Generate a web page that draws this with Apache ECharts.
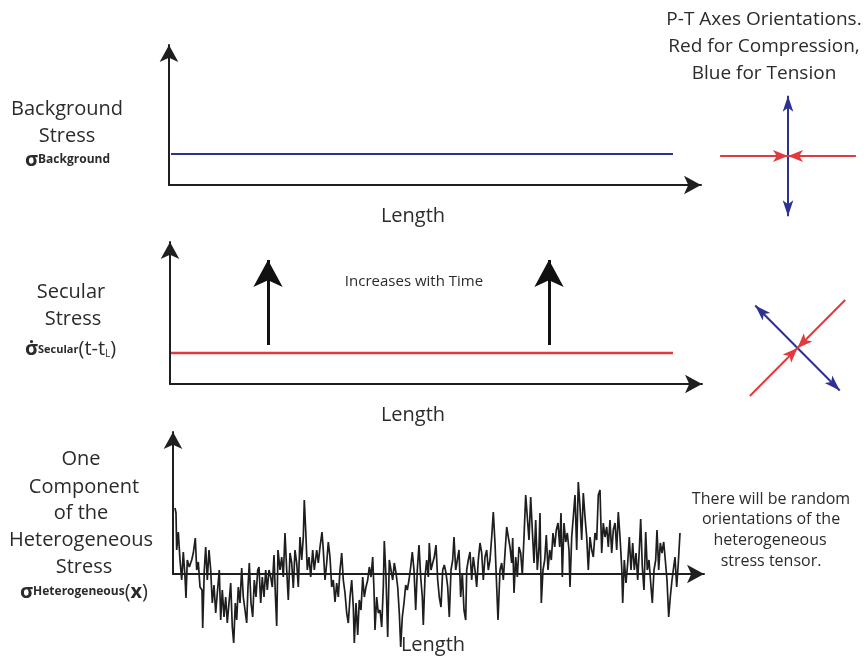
<!DOCTYPE html>
<html>
<head>
<meta charset="utf-8">
<script src="https://cdn.jsdelivr.net/npm/echarts@6/dist/echarts.min.js"></script>
<style>
html, body { margin: 0; padding: 0; background: #fff; }
#chart { width: 867px; height: 656px; }
</style>
</head>
<body>
<div id="chart"></div>
<script>
// background stress (panel 1): flat level along the length
var backgroundLength = [0, 502];
var backgroundStress = [31, 31];

// secular stress (panel 2): flat level, arrows show it grows with time
var secularLength = [0, 502];
var secularStress = [31, 31];
var increaseAt = [97, 378];
var increaseFrom = [39, 39];
var increaseTo = [124, 124];

// heterogeneous stress (panel 3): [length, stress]
var heteroStress = [
  [0,66],[1,61],[1.7,24],[3.3,42],[5,14],[6.7,-6],[8.3,22],[10,-3],[11,-24],[12.3,14],
  [14.3,7],[16.7,14],[18.3,21],[20.3,36],[21.7,4],[23.3,12],[25,-13],[27,-16],[27.7,-54],[29.3,4],
  [30.7,27],[32.3,-6],[34,24],[35.7,4],[37.3,-29],[39,-11],[40.7,-39],[42.3,-19],[44.3,4],[45.7,-46],
  [47.3,-16],[49,-43],[50.7,-23],[52.3,-49],[54,-29],[55.7,-9],[57.3,-53],[58.7,-69],[60.3,-29],[61.7,-46],
  [63.3,-13],[65,-29],[66.7,6],[68.3,-23],[70,-36],[71.7,-49],[73,-13],[74.3,11],[76,-29],[77.7,-43],
  [79.3,-6],[81,-23],[82.7,4],[84,7],[85.7,-29],[87.3,-3],[89,-23],[90.7,4],[92.3,-16],[94,4],
  [95.7,-3],[97.3,-13],[99,19],[100.3,-19],[101.7,-52],[103,24],[105,4],[106.7,17],[108.3,-3],[110,41],
  [111.7,4],[113.3,-26],[115,21],[116.7,11],[118.3,-14],[120,24],[121.7,11],[123.3,-13],[125,37],[126.7,14],
  [128.3,37],[129.3,74],[130.7,44],[132.3,4],[134,17],[135.7,-3],[137.7,24],[139.3,4],[141.7,24],[143.3,11],
  [145,27],[147,42],[148.3,24],[150,-6],[151.7,11],[153.3,32],[155,17],[156.7,-13],[158.3,-6],[160,-28],
  [161.7,-9],[163.3,-23],
  [165,4],[166.7,21],[168.3,-6],[170,-19],[171.7,-39],[173.3,-49],[175,-23],[176.7,-6],[178.3,-33],[179.3,-69],
  [181,-29],[182.7,-61],[184.3,-26],[186,-36],[187.7,-3],[189.3,-23],[191,-13],[192.7,-6],[194.3,7],[196,-3],
  [197.7,17],[199,-16],[200,-56],[201.7,-23],[203.3,-39],[205,-36],[206.7,-53],[208.3,-13],[209.3,33],[211,-3],
  [212.7,-63],[214.3,14],[216,4],[217.7,-6],[219.3,11],[221,1],[222.7,-13],[224.3,-39],[225.7,-73],[227.3,-43],
  [229,-29],[230.7,-11],[232.3,-16],[234,-6],[235.7,7],[237.3,22],[239,4],[240.7,-36],[242.3,4],[244,29],
  [245.7,-3],[247.3,-23],[248.3,-51],[250,-3],[251.7,14],[253.3,-3],[254.3,31],[256,4],[257.7,11],[259.3,17],
  [261,29],[262.7,-6],[264.3,-23],[266,-33],[267.7,4],[269.3,9],[271,1],[272.7,-13],[274.3,-43],[276,4],
  [277.7,14],[279,37],[280.7,4],[282.3,14],[284,24],[285.7,-23],[287.3,1],[289,-36],[290.7,-46],[291.7,4],
  [293.3,14],[295,22],[296.7,-6],[298.3,17],[300,4],[301.7,-13],[303.3,14],[305,31],[306.7,21],[308.3,-6],
  [310,17],[311.7,24],[313.3,4],[315,14],[316.7,37],[318.3,62],[320,31],[321.7,-13],[323,-46],[325,4],
  [326.7,11],[328.3,-6],[330,21],[331.7,47],[333.3,37],
  [335,27],[336.7,11],[337.7,36],[339,-19],[340.7,17],[342.3,-3],[344,27],[345.7,21],[347.3,-1],[349,37],
  [350.7,79],[352.3,57],[354,34],[355.7,77],[357.3,44],[359,11],[360.7,54],[362.3,4],[364,27],[365,61],
  [366.3,-29],[368,4],[369.7,14],[371.3,39],[373,4],[374.7,24],[376.3,14],[378,41],[379.7,27],[381.3,44],
  [383,51],[384.7,27],[386,61],[387.3,-3],[389,51],[390.7,32],[392.3,41],[394,24],[395,-13],[396.7,37],
  [398.3,57],[400,79],[401.7,24],[403.3,92],[405,67],[406.7,34],[408.3,81],[410,57],[411.7,37],[413.3,4],
  [415,37],[416.7,24],[418.3,17],[420,41],[421.7,34],[423.3,79],[425,84],[426.7,21],[428.3,51],[430,37],
  [431.7,47],[433.3,27],[435,54],[436.7,21],[438.3,44],[440,51],[441.7,24],[443.3,62],[445,37],[446.7,7],
  [447.7,-29],[449.3,14],[451,-9],[452.7,11],[454.3,37],[456,4],[457.7,31],[459.3,4],[461,21],[462.7,-6],
  [464.3,24],[465.7,55],[467.3,7],[469,-16],[470.7,42],[472.3,4],[474,14],[475.7,-9],[477.3,-29],[479,4],
  [480.7,14],[482,44],[483.7,4],[485.3,31],[487,21],[488.7,32],[490.3,14],[492,-6],[493.7,-43],[495.3,-23],
  [497,-6],[498.3,4],[500,17],[501.7,-13],[503.3,11],[505,41]
];

// P-T axes: [compression angle, tension angle] in degrees
var ptAngles = [[0, 90], [45, 135]];
var compressionLength = 0.97;
var tensionLength = 0.86;

var FONT = '"Open Sans", sans-serif';
var INK = '#2b2b2b';
var BLUE = '#2e3192';
var RED = '#e0393e';
var AXIS = '#1f1f1f';

function pairs(xs, ys) {
    return xs.map(function (x, i) { return [x, ys[i]]; });
}

function arrowAxis(gridIndex, min, max) {
    return {
        type: 'value', gridIndex: gridIndex, min: min, max: max,
        axisLine: {
            show: true, onZero: false,
            symbol: ['none', 'arrow'], symbolSize: [14, 17],
            lineStyle: { color: AXIS, width: 2 }
        },
        axisTick: { show: false },
        axisLabel: { show: false },
        splitLine: { show: false }
    };
}
function hiddenAxis(gridIndex) {
    return { type: 'value', gridIndex: gridIndex, min: -1, max: 1, show: false };
}

function label(text, x, y, size, opts) {
    opts = opts || {};
    return {
        type: 'text', x: x, y: y, z: 100,
        style: {
            text: text,
            fill: INK,
            font: (opts.weight || 'normal') + ' ' + size + 'px ' + FONT,
            align: opts.align || 'center',
            verticalAlign: 'middle'
        }
    };
}

// symbol rows like  σ^Background  built as rich text so the pieces flow
var richStyles = {
    s: { fontSize: 20, fontWeight: 'bold', fontFamily: FONT, fill: INK, verticalAlign: 'middle' },
    sup: { fontSize: 12, fontWeight: 'bold', fontFamily: FONT, fill: INK, verticalAlign: 'middle' },
    supS: { fontSize: 11, fontWeight: 'bold', fontFamily: FONT, fill: INK, verticalAlign: 'middle' },
    n: { fontSize: 20, fontFamily: FONT, fill: INK, verticalAlign: 'middle' },
    b: { fontSize: 20, fontWeight: 'bold', fontFamily: FONT, fill: INK, verticalAlign: 'middle' },
    sub: { fontSize: 10, fontFamily: FONT, fill: INK, verticalAlign: 'bottom' }
};
function symbolRow(text, x, y) {
    return {
        type: 'text', x: x, y: y, z: 100,
        style: {
            text: text, rich: richStyles, fill: INK,
            font: '20px ' + FONT, align: 'left', verticalAlign: 'middle'
        }
    };
}

var series = [
    {
        type: 'line', xAxisIndex: 0, yAxisIndex: 0, symbol: 'none',
        data: pairs(backgroundLength, backgroundStress),
        lineStyle: { color: BLUE, width: 2 }
    },
    {
        type: 'line', xAxisIndex: 1, yAxisIndex: 1, symbol: 'none',
        data: pairs(secularLength, secularStress),
        lineStyle: { color: RED, width: 2.5 }
    },
    {
        type: 'lines', coordinateSystem: 'cartesian2d', xAxisIndex: 1, yAxisIndex: 1,
        symbol: ['none', 'arrow'], symbolSize: [0, [22, 27]],
        lineStyle: { color: '#111', width: 3, opacity: 1 },
        data: increaseAt.map(function (x, i) {
            return { coords: [[x, increaseFrom[i]], [x, increaseTo[i]]] };
        })
    },
    {
        type: 'line', xAxisIndex: 2, yAxisIndex: 2, symbol: 'none', clip: false,
        data: heteroStress,
        lineStyle: { color: '#1e1e1e', width: 1.7 }
    }
];

ptAngles.forEach(function (pt, k) {
    var pc = Math.cos(pt[0] * Math.PI / 180), ps = Math.sin(pt[0] * Math.PI / 180);
    var tc = Math.cos(pt[1] * Math.PI / 180), ts = Math.sin(pt[1] * Math.PI / 180);
    // tension: arrows point outward
    series.push({
        type: 'lines', coordinateSystem: 'cartesian2d', xAxisIndex: 3 + k, yAxisIndex: 3 + k,
        symbol: ['arrow', 'arrow'], symbolSize: [[8, 16], [8, 16]],
        lineStyle: { color: BLUE, width: 2, opacity: 1 },
        data: [{ coords: [[-tc * tensionLength, -ts * tensionLength], [tc * tensionLength, ts * tensionLength]] }]
    });
    // compression: arrows point in to the centre
    series.push({
        type: 'lines', coordinateSystem: 'cartesian2d', xAxisIndex: 3 + k, yAxisIndex: 3 + k,
        symbol: ['none', 'arrow'], symbolSize: [0, [9, 15]],
        lineStyle: { color: RED, width: 2, opacity: 1 },
        data: [
            { coords: [[pc * compressionLength, ps * compressionLength], [0, 0]] },
            { coords: [[-pc * compressionLength, -ps * compressionLength], [0, 0]] }
        ]
    });
});

var chart = echarts.init(document.getElementById('chart'));
chart.setOption({
    animation: false,
    backgroundColor: '#fff',
    grid: [
        { left: 169, top: 45, width: 532, height: 140 },
        { left: 170, top: 242, width: 532, height: 142 },
        { left: 173, top: 432, width: 531, height: 142 },
        { left: 718, top: 86, width: 140, height: 140 },
        { left: 728, top: 278, width: 140, height: 140 }
    ],
    xAxis: [
        arrowAxis(0, -2, 530), arrowAxis(1, -1, 531), arrowAxis(2, -2, 529),
        hiddenAxis(3), hiddenAxis(4)
    ],
    yAxis: [
        arrowAxis(0, 0, 140), arrowAxis(1, 0, 142), arrowAxis(2, 0, 142),
        hiddenAxis(3), hiddenAxis(4)
    ],
    series: series,
    graphic: [
        // panel 1
        label('Background', 67, 109, 20),
        label('Stress', 67, 136, 20),
        symbolRow('{s|σ}{sup|Background}', 25, 160),
        label('Length', 413, 216, 20),
        // panel 2
        label('Secular', 71, 292, 20),
        label('Stress', 73, 319, 20),
        symbolRow('{s|σ\u0307}{supS|Secular}{n|(t-t}{sub|L}{n|)}', 25, 349.5),
        label('Increases with Time', 414, 282, 15),
        label('Length', 413, 415, 20),
        // panel 3
        label('One', 81, 459, 20),
        label('Component', 84, 487, 20),
        label('of the', 81, 513, 20),
        label('Heterogeneous', 81, 540, 20),
        label('Stress', 84, 567, 20),
        symbolRow('{s|σ}{sup|Heterogeneous}{n|(}{b|x}{n|)}', 20, 592),
        label('Length', 433, 645, 20),
        // right side notes
        label('P-T Axes Orientations.', 764, 20, 19),
        label('Red for Compression,', 764, 47, 19),
        label('Blue for Tension', 764, 74, 19),
        label('There will be random', 771, 499, 16),
        label('orientations of the', 771, 519, 16),
        label('heterogeneous', 770, 540, 16),
        label('stress tensor.', 771, 561, 16)
    ]
});
</script>
</body>
</html>
